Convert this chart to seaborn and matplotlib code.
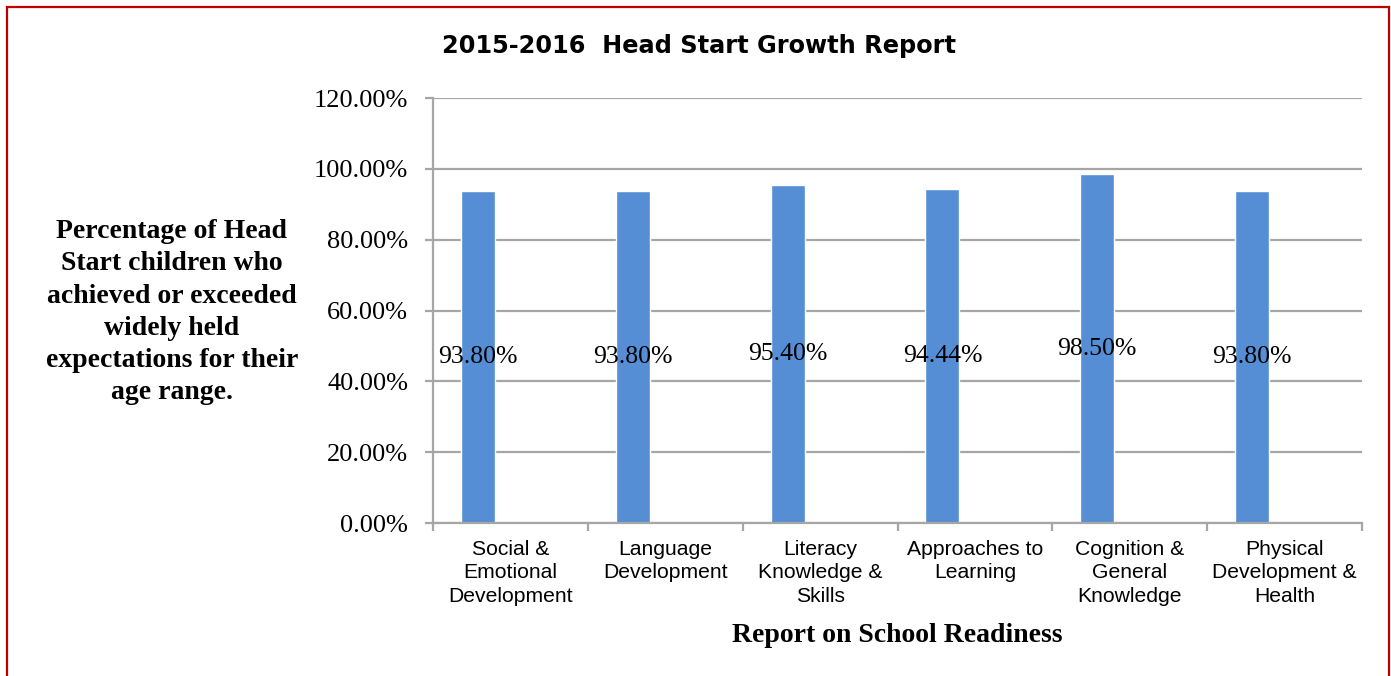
import matplotlib
matplotlib.use("Agg")
import matplotlib.pyplot as plt
import matplotlib.patches as mpatches
from matplotlib.ticker import PercentFormatter, FixedLocator
import pandas as pd
import seaborn as sns

areas = [
    "Social & Emotional Development",
    "Language Development",
    "Literacy Knowledge & Skills",
    "Approaches to Learning",
    "Cognition & General Knowledge",
    "Physical Development & Health",
]
tick_labels = [
    "Social &\nEmotional\nDevelopment",
    "Language\nDevelopment",
    "Literacy\nKnowledge &\nSkills",
    "Approaches to\nLearning",
    "Cognition &\nGeneral\nKnowledge",
    "Physical\nDevelopment &\nHealth",
]
pct = [0.938, 0.938, 0.954, 0.9444, 0.985, 0.938]
y_ticks = [0.0, 0.2, 0.4, 0.6, 0.8, 1.0, 1.2]

df = pd.DataFrame({"area": areas, "pct": pct})

sns.set_style("white")
plt.rcParams["font.family"] = ["Liberation Serif", "DejaVu Serif"]
plt.rcParams["text.color"] = "black"
plt.rcParams["axes.labelcolor"] = "black"
plt.rcParams["xtick.labelcolor"] = "black"
plt.rcParams["ytick.labelcolor"] = "black"

fig = plt.figure(figsize=(13.91, 6.76), dpi=100)
ax = fig.add_axes([0.3113, 0.2263, 0.6679, 0.6287])

grid_color = "#a6a6a6"
ax.set_axisbelow(True)
ax.yaxis.grid(True, color=grid_color, linewidth=1.6)

sns.barplot(data=df, x="area", y="pct", color="#558ed5", width=0.22,
            saturation=1, ax=ax)

# excel-style clustered layout: bar sits left of the category centre
for patch in ax.containers[0]:
    patch.set_x(patch.get_x() - 0.21)

ax.bar_label(ax.containers[0], labels=[f"{v * 100:.2f}%" for v in pct],
             label_type="center", fontsize=18.5, color="black")

ax.set_ylim(0, 1.2)
ax.set_xlim(-0.5, len(areas) - 0.5)
ax.yaxis.set_major_locator(FixedLocator(y_ticks))
ax.yaxis.set_major_formatter(PercentFormatter(1, decimals=2))
ax.tick_params(axis="y", labelsize=19, length=6, width=1.6, color=grid_color,
               pad=12, left=True)

ax.set_xticks(range(len(areas)))
ax.set_xticklabels(tick_labels, fontfamily="Liberation Sans", fontsize=15.2,
                   linespacing=1.32)
ax.tick_params(axis="x", length=0, pad=12)
ax.set_xticks([i - 0.5 for i in range(len(areas) + 1)], minor=True)
ax.tick_params(axis="x", which="minor", length=6, width=1.6, color=grid_color,
               bottom=True)

for side in ["top", "right"]:
    ax.spines[side].set_visible(False)
for side in ["left", "bottom"]:
    ax.spines[side].set_color(grid_color)
    ax.spines[side].set_linewidth(1.6)

ax.set_xlabel("Report on School Readiness", fontsize=20, fontweight="bold",
              labelpad=12)
ax.set_ylabel("Percentage of Head\nStart children who\nachieved or exceeded\n"
              "widely held\nexpectations for their\nage range.",
              fontsize=20, fontweight="bold", rotation=0, ha="center",
              va="center", linespacing=1.38)
ax.yaxis.set_label_coords(-0.281, 0.496)

fig.text(699 / 1391, 1 - 46 / 676, "2015-2016  Head Start Growth Report",
         ha="center", va="center", fontsize=17.3, fontweight="bold",
         family="DejaVu Sans")

border = mpatches.Rectangle((7 / 1391, -0.05), 1382 / 1391, 1 - 7 / 676 + 0.05,
                            transform=fig.transFigure, fill=False,
                            edgecolor="#c00000", linewidth=1.6)
fig.patches.append(border)

fig.savefig("out.png", dpi=100)
